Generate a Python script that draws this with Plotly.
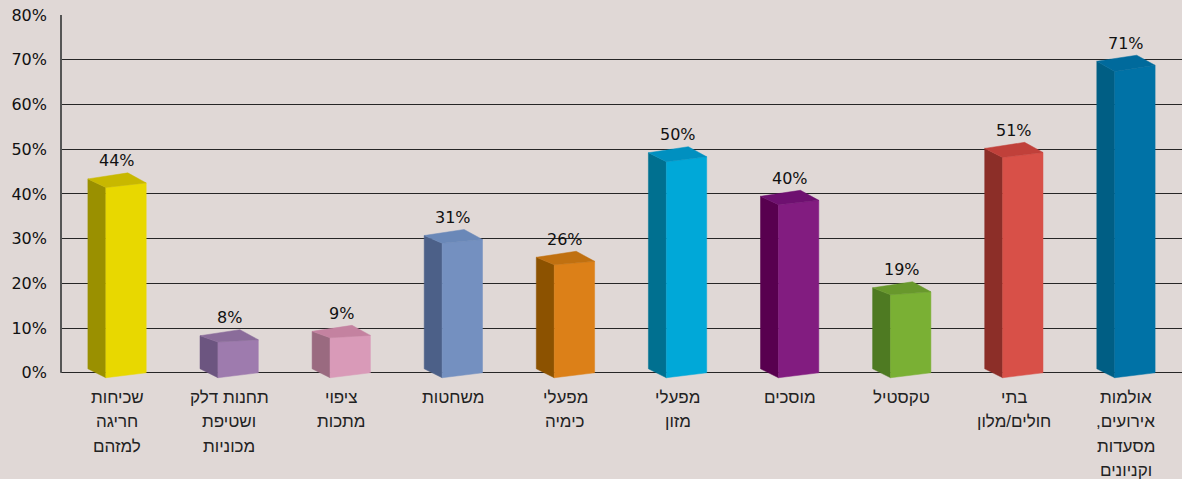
import plotly.graph_objects as go

# ---- data ----
categories = [
    ["שכיחות", "חריגה", "למזהם"],
    ["תחנות דלק", "ושטיפת", "מכוניות"],
    ["ציפוי", "מתכות"],
    ["משחטות"],
    ["מפעלי", "כימיה"],
    ["מפעלי", "מזון"],
    ["מוסכים"],
    ["טקסטיל"],
    ["בתי", "חולים/מלון"],
    ["אולמות", "אירועים,\u200f", "מסעדות", "וקניונים"],
]
values = [44, 8, 9, 31, 26, 50, 40, 19, 51, 71]
value_labels = ["44%", "8%", "9%", "31%", "26%", "50%", "40%", "19%", "51%", "71%"]
y_ticks = [0, 10, 20, 30, 40, 50, 60, 70, 80]
y_tick_labels = ["0%", "10%", "20%", "30%", "40%", "50%", "60%", "70%", "80%"]

# colours: (front, side, top)
front_colors = ["#E8D800", "#9E7BAE", "#D99AB8", "#7490C0", "#DC8018",
                "#00A8D8", "#821C80", "#7AB034", "#D85048", "#0072A6"]
side_colors = ["#9A9000", "#6C5580", "#9A6A80", "#4C6088", "#8C5200",
               "#007090", "#58004F", "#4E7A22", "#8C2E28", "#005E84"]
top_colors = ["#C8B800", "#8A6C9A", "#C482A0", "#6A88B8", "#C07010",
              "#0090C0", "#6E1070", "#68982C", "#C0403A", "#006A9C"]

BG = "#E0D8D6"
fig = go.Figure()

# bar geometry (in axis units, relative to category centre)
XL, XF, XR, XP = -0.26, -0.10, 0.26, 0.096

for i, v in enumerate(values):
    fl = v - 0.8 - 0.040 * v   # front-left top
    fr = v - 0.4 - 0.026 * v   # front-right top
    bl = v + 0.5 - 0.026 * v   # back-left top
    br = v + 1.85 - 0.026 * v  # back-right top
    # side face
    fig.add_trace(go.Scatter(
        x=[i + XL, i + XF, i + XF, i + XL, i + XL],
        y=[0.9, -1.1, fl, bl, 0.9],
        fill="toself", fillcolor=side_colors[i], mode="lines",
        line=dict(width=0.5, color=side_colors[i]), hoverinfo="skip", showlegend=False))
    # front face
    fig.add_trace(go.Scatter(
        x=[i + XF, i + XR, i + XR, i + XF, i + XF],
        y=[-1.1, 0.0, fr, fl, -1.1],
        fill="toself", fillcolor=front_colors[i], mode="lines",
        line=dict(width=0.5, color=front_colors[i]), hoverinfo="skip", showlegend=False))
    # top face
    fig.add_trace(go.Scatter(
        x=[i + XL, i + XP, i + XR, i + XF, i + XL],
        y=[bl, br, fr, fl, bl],
        fill="toself", fillcolor=top_colors[i], mode="lines",
        line=dict(width=0.5, color=top_colors[i]), hoverinfo="skip", showlegend=False))
    # value label
    fig.add_annotation(x=i, y=v + 4.6 - 0.028 * v, text=value_labels[i],
                       showarrow=False, xanchor="center", yanchor="middle",
                       font=dict(family="DejaVu Sans", size=16, color="#111111"))

# category labels, one annotation per line
for i, lines in enumerate(categories):
    for k, line in enumerate(lines):
        fig.add_annotation(x=i, xref="x", y=0, yref="paper", text=line,
                           showarrow=False, xanchor="center", yanchor="middle",
                           yshift=-(13 + 24.5 * k),
                           font=dict(family="Liberation Sans", size=17, color="#222222"))

# left axis line from 0% to 80%
fig.add_shape(type="line", xref="paper", x0=0, x1=0, yref="y", y0=0, y1=80,
              line=dict(color="#555555", width=2))

fig.update_layout(
    width=1182, height=479,
    margin=dict(l=61, r=0, t=15, b=95),
    paper_bgcolor=BG, plot_bgcolor=BG,
    xaxis=dict(range=[-0.5, 9.5], showgrid=False, zeroline=False,
               showticklabels=False, showline=False, fixedrange=True),
    yaxis=dict(range=[-2.5, 80], tickvals=y_ticks, ticktext=y_tick_labels,
               showgrid=True, gridcolor="#262626", gridwidth=1.4,
               zeroline=False, showline=False, ticks="",
               ticklabelstandoff=13,
               tickfont=dict(family="DejaVu Sans", size=16, color="#111111"),
               fixedrange=True),
    font=dict(family="Liberation Sans"),
)

fig.write_html(
    "out.html",
    config={"displayModeBar": False},
    post_script="document.body.style.margin='0';document.body.style.background='%s';" % BG,
)
